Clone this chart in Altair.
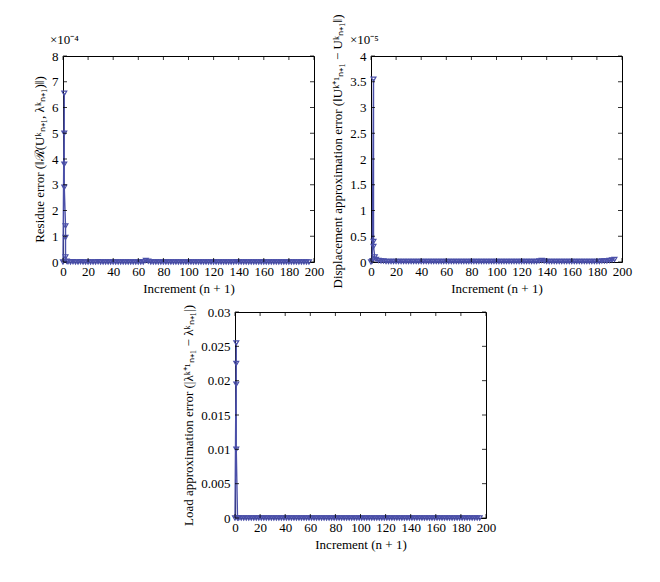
import altair as alt
import pandas as pd

# ---------------- data ----------------
# Panel 1: residue error (units of 1e-4)
res_x = [0, 1, 1, 1, 1, 2, 2, 2, 3] + list(range(4, 197, 2))
res_y = [0.0, 6.55, 5.0, 3.8, 2.9, 1.4, 0.95, 0.2, 0.03] + [
    0.01, 0.0, 0.01, 0.0, 0.0, 0.01, 0.0, 0.0, 0.0, 0.0,
    0.0, 0.0, 0.01, 0.0, 0.0, 0.0, 0.0, 0.0, 0.0, 0.0,
    0.0, 0.0, 0.0, 0.0, 0.0, 0.0, 0.0, 0.0, 0.0, 0.0,
    0.0, 0.06, 0.03, 0.0, 0.0, 0.0, 0.0, 0.0, 0.0, 0.0,
    0.0, 0.0, 0.0, 0.0, 0.0, 0.0, 0.0, 0.0, 0.0, 0.0,
    0.0, 0.0, 0.0, 0.0, 0.0, 0.0, 0.0, 0.0, 0.0, 0.0,
    0.0, 0.0, 0.0, 0.0, 0.0, 0.0, 0.0, 0.01, 0.0, 0.0,
    0.0, 0.0, 0.0, 0.0, 0.0, 0.0, 0.0, 0.0, 0.0, 0.0,
    0.0, 0.0, 0.0, 0.0, 0.0, 0.0, 0.0, 0.0, 0.0, 0.0,
    0.0, 0.0, 0.0, 0.0, 0.0, 0.0, 0.0]

# Panel 2: displacement approximation error (units of 1e-5)
dis_x = [0, 1, 2, 2, 2, 3, 4] + list(range(6, 195, 2))
dis_y = [0.0, 0.02, 3.55, 0.4, 0.3, 0.1, 0.05] + [
    0.03, 0.02, 0.02, 0.01, 0.01, 0.01, 0.01, 0.01, 0.01, 0.01,
    0.01, 0.01, 0.01, 0.01, 0.01, 0.01, 0.01, 0.01, 0.01, 0.01,
    0.01, 0.01, 0.01, 0.01, 0.01, 0.01, 0.01, 0.01, 0.01, 0.01,
    0.01, 0.01, 0.01, 0.01, 0.01, 0.01, 0.01, 0.01, 0.01, 0.01,
    0.01, 0.01, 0.01, 0.01, 0.01, 0.01, 0.01, 0.01, 0.01, 0.01,
    0.01, 0.01, 0.01, 0.01, 0.01, 0.01, 0.01, 0.01, 0.01, 0.01,
    0.01, 0.01, 0.01, 0.01, 0.02, 0.03, 0.02, 0.01, 0.01, 0.01,
    0.01, 0.01, 0.01, 0.01, 0.01, 0.01, 0.01, 0.01, 0.01, 0.01,
    0.01, 0.01, 0.01, 0.01, 0.01, 0.01, 0.01, 0.01, 0.01, 0.02,
    0.02, 0.02, 0.03, 0.04, 0.05]

# Panel 3: load approximation error
load_x = [0, 1, 1, 1, 1, 2] + list(range(3, 197, 2))
load_y = [0.0, 0.0255, 0.0225, 0.0195, 0.010, 0.0] + [0.0] * 97

x_ticks = [0, 20, 40, 60, 80, 100, 120, 140, 160, 180, 200]
res_ticks = [0, 1, 2, 3, 4, 5, 6, 7, 8]
dis_ticks = [0, 0.5, 1, 1.5, 2, 2.5, 3, 3.5, 4]
load_ticks = [0, 0.005, 0.01, 0.015, 0.02, 0.025, 0.03]

# ---------------- style ----------------
W, H = 251, 206
COLOR = "#4a4fa8"
FONT = "Liberation Serif"


def panel(xs, ys, yticks, ytitle, mult=None, mult_dx=-14, title_y=None):
    df = pd.DataFrame({"x": xs, "y": ys, "i": list(range(len(xs)))})
    xsc = alt.Scale(domain=[0, 200], nice=False, zero=False)
    ysc = alt.Scale(domain=[yticks[0], yticks[-1]], nice=False)
    common = dict(ticks=False, domain=False, grid=False,
                  labelOverlap=False, labelFlush=False,
                  labelFont=FONT, titleFont=FONT,
                  labelFontSize=13, titleFontSize=13,
                  titleFontWeight="normal",
                  labelColor="black", titleColor="black")
    xenc = alt.X("x:Q", scale=xsc,
                 axis=alt.Axis(values=x_ticks, title="Increment (n + 1)",
                               labelPadding=3, titlePadding=4, format="d",
                               **common))
    yextra = {}
    if title_y is not None:
        yextra = dict(titleY=title_y, titleAlign="left")
    yenc = alt.Y("y:Q", scale=ysc,
                 axis=alt.Axis(values=yticks, title=ytitle, labelPadding=5,
                               titlePadding=5, format="~g", **yextra,
                               **common))
    base = alt.Chart(df)
    line = base.mark_line(color=COLOR, strokeWidth=1.4).encode(
        x=xenc, y=yenc, order="i:Q")
    pts = base.mark_point(shape="triangle-down", color=COLOR, size=24,
                          filled=False, strokeWidth=1.2, opacity=1).encode(
        x=xenc, y=yenc)
    xt = pd.DataFrame({"x": x_ticks})
    yt = pd.DataFrame({"y": yticks})
    tb = alt.Chart(xt).mark_rule(color="black", strokeWidth=0.8).encode(
        x=xenc, y=alt.value(H), y2=alt.value(H - 4))
    tt = alt.Chart(xt).mark_rule(color="black", strokeWidth=0.8).encode(
        x=xenc, y=alt.value(0), y2=alt.value(4))
    tl = alt.Chart(yt).mark_rule(color="black", strokeWidth=0.8).encode(
        y=yenc, x=alt.value(0), x2=alt.value(4))
    tr = alt.Chart(yt).mark_rule(color="black", strokeWidth=0.8).encode(
        y=yenc, x=alt.value(W - 4), x2=alt.value(W))
    layers = [line, pts, tb, tt, tl, tr]
    if mult:
        mt = alt.Chart(pd.DataFrame({"t": [mult]})).mark_text(
            align="left", baseline="bottom", font=FONT, fontSize=13,
            color="black").encode(text="t:N", x=alt.value(mult_dx),
                                  y=alt.value(-9))
        layers.append(mt)
    return alt.layer(*layers).properties(width=W, height=H)


p1 = panel(res_x, res_y, res_ticks,
           "Residue error (‖ℛ(Uᵏₙ₊₁, λᵏₙ₊₁)‖)", "×10⁻⁴", mult_dx=-13)
p2 = panel(dis_x, dis_y, dis_ticks,
           "Displacement approximation error (‖Uᵏ⁺¹ₙ₊₁ − Uᵏₙ₊₁‖)", "×10⁻⁵",
           mult_dx=-21, title_y=H + 26)
p3 = panel(load_x, load_y, load_ticks,
           "Load approximation error (|λᵏ⁺¹ₙ₊₁ − λᵏₙ₊₁|)")

spacer = alt.Chart(pd.DataFrame({"a": [0]})).mark_point(opacity=0).encode(
    x=alt.value(0), y=alt.value(0)).properties(
    width=118, height=10, view=alt.ViewBackground(stroke="transparent"))

top = alt.hconcat(p1, p2, spacing=6)
bottom = alt.hconcat(spacer, p3, spacing=0)
chart = alt.vconcat(top, bottom, spacing=8).properties(
    padding={"left": 25, "top": 5, "right": 5, "bottom": 5},
    background="white"
).configure_view(stroke="black", strokeWidth=1)

chart.save("out.html", embed_options={"renderer": "svg", "actions": False})
